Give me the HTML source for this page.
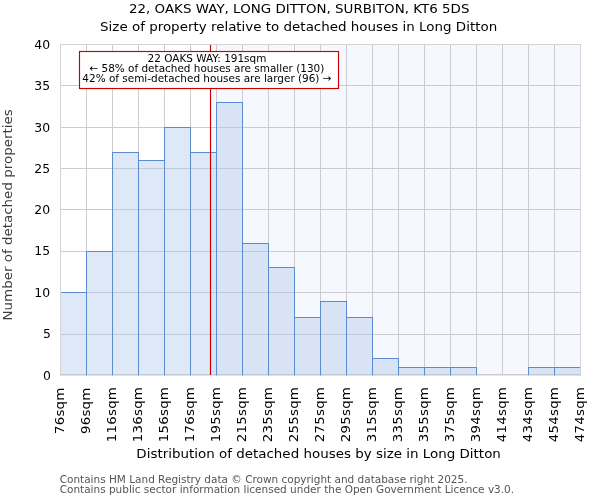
<!DOCTYPE html>
<html lang="en"><head><meta charset="utf-8"><title>22, OAKS WAY, LONG DITTON, SURBITON, KT6 5DS</title>
<style>html,body{margin:0;padding:0;background:#fff;}body{width:600px;height:500px;overflow:hidden;}svg{display:block;font-family:"DejaVu Sans","Liberation Sans",sans-serif;}text{white-space:pre;}</style>
</head><body>
<svg width="600" height="500" viewBox="0 0 600 500">
<defs><clipPath id="ax"><rect x="60" y="44" width="521" height="331.15"/></clipPath></defs>
<rect x="0" y="0" width="600" height="500" fill="#ffffff"/>
<rect x="210.5" y="44" width="370.5" height="331" fill="#dfe9fb" fill-opacity="0.3"/>
<g stroke="#cccccc" stroke-width="1" fill="none">
<line x1="86.5" y1="44" x2="86.5" y2="375"/>
<line x1="112.5" y1="44" x2="112.5" y2="375"/>
<line x1="138.5" y1="44" x2="138.5" y2="375"/>
<line x1="164.5" y1="44" x2="164.5" y2="375"/>
<line x1="190.5" y1="44" x2="190.5" y2="375"/>
<line x1="216.5" y1="44" x2="216.5" y2="375"/>
<line x1="242.5" y1="44" x2="242.5" y2="375"/>
<line x1="268.5" y1="44" x2="268.5" y2="375"/>
<line x1="294.5" y1="44" x2="294.5" y2="375"/>
<line x1="320.5" y1="44" x2="320.5" y2="375"/>
<line x1="346.5" y1="44" x2="346.5" y2="375"/>
<line x1="372.5" y1="44" x2="372.5" y2="375"/>
<line x1="398.5" y1="44" x2="398.5" y2="375"/>
<line x1="424.5" y1="44" x2="424.5" y2="375"/>
<line x1="450.5" y1="44" x2="450.5" y2="375"/>
<line x1="476.5" y1="44" x2="476.5" y2="375"/>
<line x1="502.5" y1="44" x2="502.5" y2="375"/>
<line x1="528.5" y1="44" x2="528.5" y2="375"/>
<line x1="554.5" y1="44" x2="554.5" y2="375"/>
<rect x="60" y="374" width="521" height="1.45" fill="#cccccc" stroke="none"/>
<line x1="60" y1="334.5" x2="581" y2="334.5"/>
<line x1="60" y1="292.5" x2="581" y2="292.5"/>
<line x1="60" y1="251.5" x2="581" y2="251.5"/>
<line x1="60" y1="209.5" x2="581" y2="209.5"/>
<line x1="60" y1="168.5" x2="581" y2="168.5"/>
<line x1="60" y1="127.5" x2="581" y2="127.5"/>
<line x1="60" y1="85.5" x2="581" y2="85.5"/>
<line x1="60" y1="44.5" x2="581" y2="44.5" stroke="#d4d4d4"/>
</g>
<g clip-path="url(#ax)"><g fill="#b0c7ea" fill-opacity="0.42" stroke="#5b8bd0" stroke-width="1">
<rect x="60.5" y="292.5" width="26.0" height="84.0"/>
<rect x="86.5" y="251.5" width="26.0" height="125.0"/>
<rect x="112.5" y="152.5" width="26.0" height="224.0"/>
<rect x="138.5" y="160.5" width="26.0" height="216.0"/>
<rect x="164.5" y="127.5" width="26.0" height="249.0"/>
<rect x="190.5" y="152.5" width="26.0" height="224.0"/>
<rect x="216.5" y="102.5" width="26.0" height="274.0"/>
<rect x="242.5" y="243.5" width="26.0" height="133.0"/>
<rect x="268.5" y="267.5" width="26.0" height="109.0"/>
<rect x="294.5" y="317.5" width="26.0" height="59.0"/>
<rect x="320.5" y="301.5" width="26.0" height="75.0"/>
<rect x="346.5" y="317.5" width="26.0" height="59.0"/>
<rect x="372.5" y="358.5" width="26.0" height="18.0"/>
<rect x="398.5" y="367.5" width="26.0" height="9.0"/>
<rect x="424.5" y="367.5" width="26.0" height="9.0"/>
<rect x="450.5" y="367.5" width="26.0" height="9.0"/>
<rect x="528.5" y="367.5" width="26.0" height="9.0"/>
<rect x="554.5" y="367.5" width="26.0" height="9.0"/>
</g></g>
<g stroke="#d4d4d4" stroke-width="1" fill="none">
<line x1="60.5" y1="44" x2="60.5" y2="375.3"/>
<line x1="580.5" y1="44" x2="580.5" y2="375.3"/>
</g>
<line x1="210.5" y1="45" x2="210.5" y2="375" stroke="#cc0000" stroke-width="1.15"/>
<rect x="79.5" y="51.5" width="259" height="37" fill="#ffffff" stroke="#cc0000" stroke-width="1.15"/>
<g font-size="10.46px" fill="#000000" text-anchor="middle">
<text x="207.0" y="61.7">22 OAKS WAY: 191sqm</text>
<text x="206.9" y="71.9">← 58% of detached houses are smaller (130)</text>
<text x="206.95" y="81.7">42% of semi-detached houses are larger (96) →</text>
</g>
<g font-size="12.4px" fill="#000000" text-anchor="end">
<text x="51.0" y="379.55">0</text>
<text x="51.0" y="338.18">5</text>
<text x="50.1" y="296.80">10</text>
<text x="50.1" y="255.43">15</text>
<text x="50.1" y="214.05">20</text>
<text x="50.1" y="172.68">25</text>
<text x="50.1" y="132.30">30</text>
<text x="50.1" y="89.92">35</text>
<text x="50.1" y="48.55">40</text>
</g>
<g font-size="13.4px" fill="#000000" text-anchor="end" letter-spacing="0.2">
<text transform="translate(64.40,387.5) rotate(-90) scale(1,0.95)">76sqm</text>
<text transform="translate(90.40,387.5) rotate(-90) scale(1,0.95)">96sqm</text>
<text transform="translate(116.40,386.9) rotate(-90) scale(1,0.95)">116sqm</text>
<text transform="translate(142.40,386.9) rotate(-90) scale(1,0.95)">136sqm</text>
<text transform="translate(168.40,386.9) rotate(-90) scale(1,0.95)">156sqm</text>
<text transform="translate(194.40,386.9) rotate(-90) scale(1,0.95)">176sqm</text>
<text transform="translate(220.40,386.9) rotate(-90) scale(1,0.95)">195sqm</text>
<text transform="translate(246.40,386.9) rotate(-90) scale(1,0.95)">215sqm</text>
<text transform="translate(272.40,386.9) rotate(-90) scale(1,0.95)">235sqm</text>
<text transform="translate(298.40,386.9) rotate(-90) scale(1,0.95)">255sqm</text>
<text transform="translate(324.40,386.9) rotate(-90) scale(1,0.95)">275sqm</text>
<text transform="translate(350.40,386.9) rotate(-90) scale(1,0.95)">295sqm</text>
<text transform="translate(376.40,386.9) rotate(-90) scale(1,0.95)">315sqm</text>
<text transform="translate(402.40,386.9) rotate(-90) scale(1,0.95)">335sqm</text>
<text transform="translate(428.40,386.9) rotate(-90) scale(1,0.95)">355sqm</text>
<text transform="translate(454.40,386.9) rotate(-90) scale(1,0.95)">375sqm</text>
<text transform="translate(480.40,386.9) rotate(-90) scale(1,0.95)">394sqm</text>
<text transform="translate(506.40,386.9) rotate(-90) scale(1,0.95)">414sqm</text>
<text transform="translate(532.40,386.9) rotate(-90) scale(1,0.95)">434sqm</text>
<text transform="translate(558.40,386.9) rotate(-90) scale(1,0.95)">454sqm</text>
<text transform="translate(584.40,386.9) rotate(-90) scale(1,0.95)">474sqm</text>
</g>
<g font-size="13.445px" fill="#000000" text-anchor="middle">
<text transform="translate(299.2,13.1) scale(1,0.93)">22, OAKS WAY, LONG DITTON, SURBITON, KT6 5DS</text>
<text transform="translate(298.65,30.7) scale(1,0.93)">Size of property relative to detached houses in Long Ditton</text>
<text transform="translate(318.6,458) scale(1,0.93)">Distribution of detached houses by size in Long Ditton</text>
<text transform="translate(12.2,214.9) rotate(-90) scale(1,0.93)" fill="#3d3d3d">Number of detached properties</text>
</g>
<g font-size="10.495px" fill="#555555">
<text x="59.7" y="482.6">Contains HM Land Registry data © Crown copyright and database right 2025.</text>
<text x="59.7" y="492.5">Contains public sector information licensed under the Open Government Licence v3.0.</text>
</g>
</svg>
</body></html>
